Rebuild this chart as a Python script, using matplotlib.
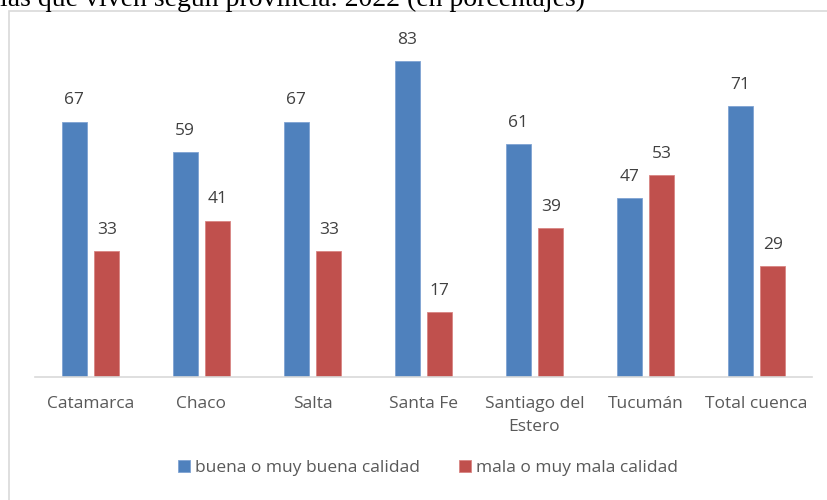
import matplotlib.pyplot as plt
import numpy as np
from matplotlib.patches import Rectangle

provincias = ['Catamarca', 'Chaco', 'Salta', 'Santa Fe', 'Santiago del\nEstero', 'Tucumán', 'Total cuenca']
buena = [67, 59, 67, 83, 61, 47, 71]
mala = [33, 41, 33, 17, 39, 53, 29]
serie_labels = ['buena o muy buena calidad', 'mala o muy mala calidad']

azul = '#4F81BD'
rojo = '#C0504D'
gris = '#595959'

plt.rcParams['font.family'] = ['Open Sans', 'DejaVu Sans']

W, H = 828, 500
fig = plt.figure(figsize=(W / 100, H / 100), dpi=100)

# frame of the embedded chart (right and bottom edges fall outside the crop)
fig.patches.append(Rectangle((9 / W, -0.1), 1.0, 1 - 11 / H + 0.1, transform=fig.transFigure,
                             fill=False, edgecolor='#d9d9d9', linewidth=1.2))

# cut-off caption above the chart
fig.text(0.0, 1 - 6 / H, 'las que viven según provincia. 2022 (en porcentajes)',
         family='Liberation Serif', fontsize=20, color='black', va='baseline')

ax = fig.add_axes([35 / W, 123.3 / H, 777 / W, 342.6 / H])

x = np.arange(len(provincias))
w = 0.23
off = 0.146
b1 = ax.bar(x - off, buena, w, color=azul, edgecolor='#7fa3d3', linewidth=0.6, label=serie_labels[0])
b2 = ax.bar(x + off, mala, w, color=rojo, edgecolor='#d98583', linewidth=0.6, label=serie_labels[1])

for bars in (b1, b2):
    for r in bars:
        ax.annotate(f'{r.get_height():.0f}', (r.get_x() + r.get_width() / 2, r.get_height()),
                    xytext=(0, 9.5), textcoords='offset points', ha='center', va='bottom',
                    fontsize=12.5, color='#404040')

ax.set_xlim(-0.5, len(provincias) - 0.5)
ax.set_ylim(0, 90)
ax.set_xticks(x)
ax.set_xticklabels(provincias, fontsize=12.5, color=gris, linespacing=1.55)
ax.tick_params(axis='x', length=0, pad=14)
ax.set_yticks([])
for s in ['top', 'right', 'left']:
    ax.spines[s].set_visible(False)
ax.spines['bottom'].set_color('#d9d9d9')
ax.spines['bottom'].set_linewidth(1.2)

leg = fig.legend(handles=[b1, b2], labels=serie_labels, loc='center', bbox_to_anchor=(428 / W, 1 - 468 / H),
                 ncol=2, frameon=False, fontsize=12.5, handlelength=0.7, handleheight=0.7,
                 handletextpad=0.3, columnspacing=2.2)
for t in leg.get_texts():
    t.set_color(gris)

fig.savefig('out.png', dpi=100)
